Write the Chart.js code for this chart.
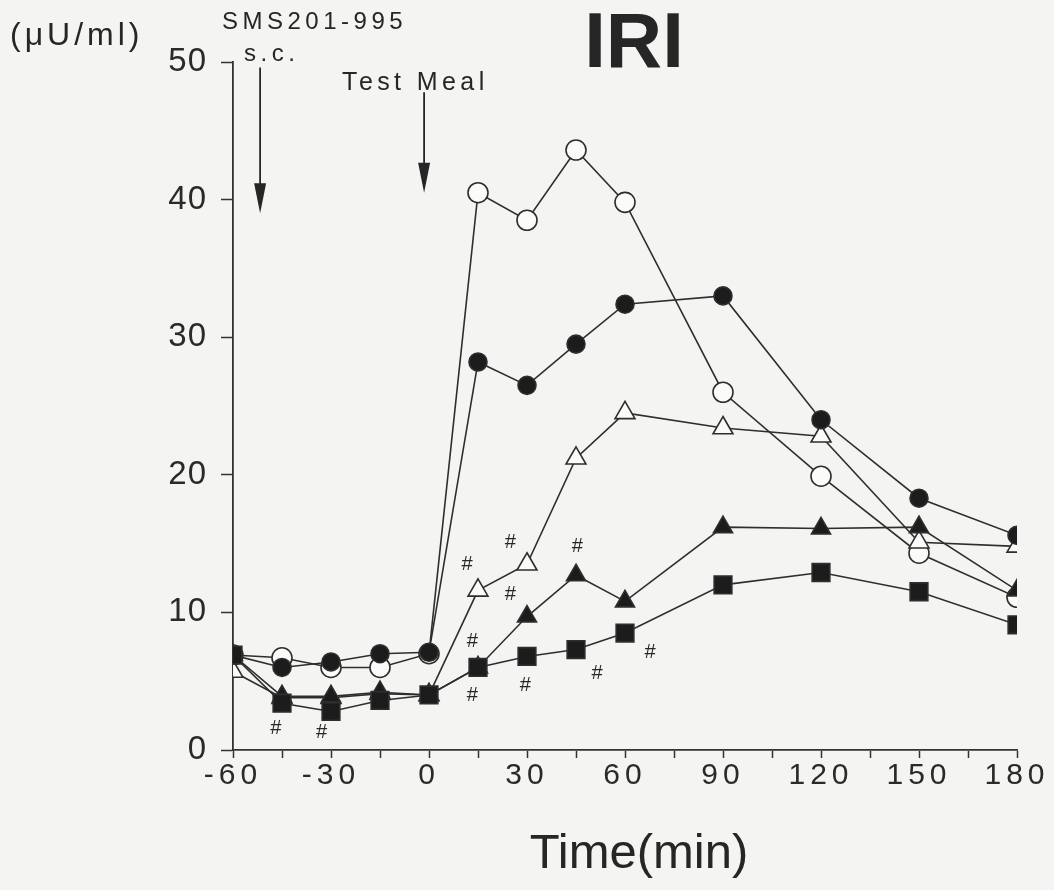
<!DOCTYPE html>
<html lang="en">
<head>
<meta charset="UTF-8">
<title>IRI</title>
<script src="https://cdn.jsdelivr.net/npm/chart.js@4"></script>
<style>
    html, body { margin: 0; padding: 0; background: #f4f4f2; }
    #grafico { display: block; }
</style>
</head>
<body>
<canvas id="grafico" width="1054" height="890"></canvas>
<script>
    // Tempos de coleta (min)
    const tempos = [-60, -45, -30, -15, 0, 15, 30, 45, 60, 90, 120, 150, 180];

    // IRI (µU/ml) por grupo
    const circuloAberto    = [6.9, 6.7, 6.0, 6.0, 7.0, 40.5, 38.5, 43.6, 39.8, 26.0, 19.9, 14.3, 11.1];
    const circuloCheio     = [6.9, 6.0, 6.4, 7.0, 7.1, 28.2, 26.5, 29.5, 32.4, 33.0, 24.0, 18.3, 15.6];
    const trianguloAberto  = [5.7, 3.8, 3.8, 4.1, 4.0, 11.6, 13.5, 21.2, 24.5, 23.4, 22.8, 15.1, 14.8];
    const trianguloCheio   = [6.9, 3.9, 3.9, 4.2, 4.0, 6.0, 9.7, 12.7, 10.8, 16.2, 16.1, 16.2, 11.6];
    const quadradoCheio    = [6.9, 3.4, 2.8, 3.6, 4.0, 6.0, 6.8, 7.3, 8.5, 12.0, 12.9, 11.5, 9.1];

    // Marcas de significância (#): [tempo, valor]
    const marcasHash = [
        [-47, 1.6], [-33, 1.3],
        [11.6, 13.5], [24.8, 15.1], [45.3, 14.8],
        [24.8, 11.3], [13.2, 7.9],
        [13.2, 4.0], [29.4, 4.7], [51.4, 5.6], [67.6, 7.1]
    ];

    // Setas: SMS201-995 s.c. e refeição teste
    const setas = [
        { tempo: -51.7, de: 49.6, ate: 39.0 },
        { tempo: -1.5, de: 47.8, ate: 40.5 }
    ];

    const corLinha = '#2e2e2e';
    const corPreenchido = '#1c1c1c';
    const corVazio = '#fbfbfa';
    const fonte = '"Liberation Sans", Arial, Helvetica, sans-serif';

    function serie(dados, estilo, raio, cheio) {
        return {
            data: tempos.map((t, i) => ({ x: t, y: dados[i] })),
            borderColor: corLinha,
            borderWidth: 1.6,
            tension: 0,
            fill: false,
            pointStyle: estilo,
            pointRadius: raio,
            pointBorderWidth: 1.6,
            pointBorderColor: corLinha,
            pointBackgroundColor: cheio ? corPreenchido : corVazio
        };
    }

    function desenharSeta(ctx, px, yTopo, yPonta) {
        ctx.beginPath();
        ctx.moveTo(px, yTopo);
        ctx.lineTo(px, yPonta - 20);
        ctx.stroke();
        ctx.beginPath();
        ctx.moveTo(px - 6, yPonta - 30);
        ctx.lineTo(px + 6, yPonta - 30);
        ctx.lineTo(px, yPonta);
        ctx.closePath();
        ctx.fill();
    }

    // Espaçamento das letras: eixo y quase junto, eixo x bem aberto
    // (os rótulos do x são desenhados depois dos datasets, z: 1)
    const anotacoes = {
        id: 'anotacoes',
        beforeDraw(chart) {
            chart.ctx.letterSpacing = '1px';
        },
        afterDatasetsDraw(chart) {
            chart.ctx.letterSpacing = '5px';
        },
        afterDraw(chart) {
            const ctx = chart.ctx;
            const x = chart.scales.x;
            const y = chart.scales.y;
            ctx.save();
            ctx.fillStyle = '#262626';
            ctx.strokeStyle = '#262626';
            ctx.lineWidth = 1.8;

            ctx.letterSpacing = '0px';
            ctx.textBaseline = 'alphabetic';
            ctx.textAlign = 'center';
            ctx.font = 'bold 78px ' + fonte;
            ctx.fillText('IRI', 634, 67);

            ctx.font = '49px ' + fonte;
            ctx.fillText('Time(min)', 639, 868);

            ctx.textAlign = 'left';
            ctx.letterSpacing = '4px';
            ctx.font = '32px ' + fonte;
            ctx.fillText('(\u03bcU/ml)', 10, 45);

            ctx.letterSpacing = '4.5px';
            ctx.font = '24px ' + fonte;
            ctx.fillText('SMS201-995', 222, 29);
            ctx.fillText('s.c.', 244, 61);
            ctx.letterSpacing = '4.4px';
            ctx.font = '25px ' + fonte;
            ctx.fillText('Test Meal', 342, 90);

            setas.forEach(s => {
                desenharSeta(ctx, x.getPixelForValue(s.tempo), y.getPixelForValue(s.de), y.getPixelForValue(s.ate));
            });

            ctx.letterSpacing = '0px';
            ctx.textAlign = 'center';
            ctx.textBaseline = 'middle';
            ctx.font = 'italic 20px ' + fonte;
            marcasHash.forEach(m => {
                ctx.fillText('#', x.getPixelForValue(m[0]), y.getPixelForValue(m[1]));
            });
            ctx.restore();
        }
    };

    const config = {
        type: 'line',
        data: {
            datasets: [
                serie(quadradoCheio, 'rect', 12.5, true),
                serie(trianguloCheio, 'triangle', 11, true),
                serie(circuloCheio, 'circle', 9, true),
                serie(trianguloAberto, 'triangle', 11.5, false),
                serie(circuloAberto, 'circle', 10, false)
            ]
        },
        options: {
            responsive: false,
            animation: false,
            layout: { padding: { top: 62, right: 37, bottom: 0, left: 0 } },
            plugins: {
                legend: { display: false },
                tooltip: { enabled: false },
                title: { display: false }
            },
            scales: {
                x: {
                    type: 'linear',
                    min: -60,
                    max: 180,
                    ticks: {
                        stepSize: 15,
                        autoSkip: false,
                        maxRotation: 0,
                        padding: 0,
                        z: 1,
                        color: '#2a2a2a',
                        font: { family: fonte, size: 30 },
                        callback: v => (v % 30 === 0 ? v : '')
                    },
                    grid: { drawOnChartArea: false, drawTicks: true, tickLength: 8, tickColor: '#333', tickWidth: 1.5 },
                    border: { display: true, color: '#333', width: 1.8 },
                    afterFit(escala) { escala.height = 140; }
                },
                y: {
                    min: 0,
                    max: 50,
                    ticks: {
                        stepSize: 10,
                        padding: 14,
                        color: '#2a2a2a',
                        font: { family: fonte, size: 33 }
                    },
                    grid: { drawOnChartArea: false, drawTicks: true, tickLength: 12, tickColor: '#333', tickWidth: 1.5 },
                    border: { display: true, color: '#333', width: 1.8 },
                    afterFit(escala) { escala.width = 233; }
                }
            }
        },
        plugins: [anotacoes]
    };

    new Chart(document.getElementById('grafico'), config);
</script>
</body>
</html>
